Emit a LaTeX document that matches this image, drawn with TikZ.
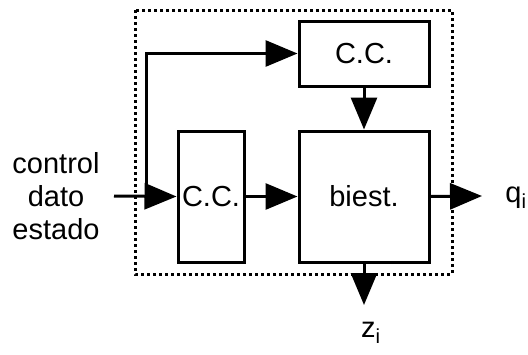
\documentclass[tikz,border=0pt]{standalone}
\usepackage{fontspec}
\setmainfont{Liberation Sans}
\usetikzlibrary{arrows.meta}
\begin{document}
\begin{tikzpicture}[x=1pt,y=-1pt,
  blk/.style={draw,line width=3pt,inner sep=0pt},
  conn/.style={line width=3pt,-{Triangle[length=32pt,width=26pt]}},
  lbl/.style={font=\fontsize{29}{33}\selectfont,inner sep=0pt}]
\useasboundingbox (0,0) rectangle (528,354);
\draw[line width=3pt,dash pattern=on 3pt off 3pt] (135,10) rectangle (452,274);
\node[blk,minimum width=130pt,minimum height=65pt,lbl] (cc1) at (364,53.5) {C.C.};
\node[blk,minimum width=66pt,minimum height=131pt,lbl] (cc2) at (211,196.5) {C.C.};
\node[blk,minimum width=130pt,minimum height=131pt,lbl] (bs) at (364,196.5) {biest.};
\node[lbl,align=center] (in) at (56,196) {control\\dato\\estado};
\coordinate (s) at (114,196);
\coordinate (j) at (146,196);
\coordinate (qend) at (482,196);
\coordinate (zend) at (364,305);
\node[lbl] (q) at (516,198) {q\textsubscript{i}};
\node[lbl] (z) at (371,333) {z\textsubscript{i}};
\draw[conn] (s) -- (cc2.west);
\draw[conn] (j) |- (cc1.west);
\draw[conn] (cc2.east) -- (bs.west);
\draw[conn] (cc1.south) -- (bs.north);
\draw[conn] (bs.east) -- (qend);
\draw[conn] (bs.south) -- (zend);
\end{tikzpicture}
\end{document}
